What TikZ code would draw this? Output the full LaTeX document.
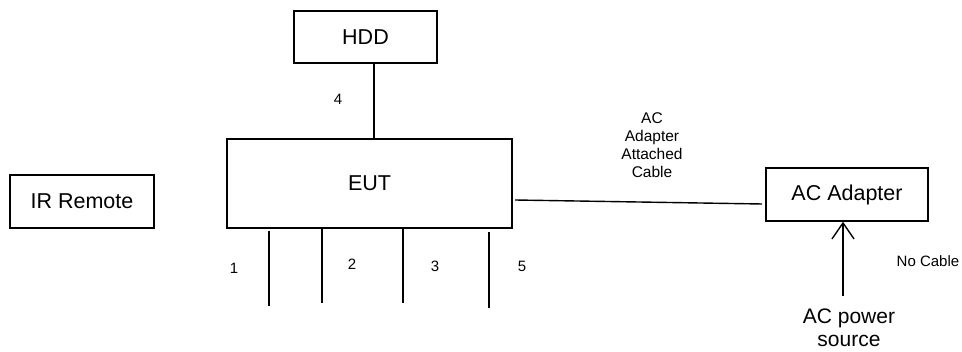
\documentclass[tikz,border=0pt]{standalone}
\usepackage{fontspec}
\setmainfont{Liberation Sans}
\usetikzlibrary{arrows.meta}
\begin{document}
\begin{tikzpicture}[x=1pt,y=-1pt,
  box/.style={draw,line width=1.4pt,inner sep=0pt,font=\fontsize{21.5}{24}\selectfont},
  wire/.style={line width=1.4pt},
  small/.style={inner sep=0pt,font=\fontsize{15}{17}\selectfont},
  mid/.style={inner sep=0pt,align=center,font=\fontsize{15.5}{18}\selectfont}]
\useasboundingbox (0,0) rectangle (962,352);
\node[box,minimum width=143pt,minimum height=52pt] (hdd) at (365.5,37) {HDD};
\node[box,minimum width=285pt,minimum height=89pt] (eut) at (369.5,183.5) {EUT};
\node[box,minimum width=144pt,minimum height=53pt] (ir) at (82,201.5) {IR Remote};
\node[box,minimum width=162pt,minimum height=53pt] (aca) at (847,194.5) {AC Adapter};
\node[mid,font=\fontsize{21}{23}\selectfont] (src) at (849,328) {AC power\\source};
\node[small] (l4) at (338,99) {4};
\node[small] (l1) at (234,268) {1};
\node[small] (l2) at (352,264) {2};
\node[small] (l3) at (435,266) {3};
\node[small] (l5) at (522,266) {5};
\node[small] (nc) at (928,261) {No Cable};
\node[mid] (cab) at (652,145) {AC\\Adapter\\Attached\\Cable};
\coordinate (b1t) at (269,231); \coordinate (b1b) at (269,306);
\coordinate (b2t) at (322,228); \coordinate (b2b) at (322,303);
\coordinate (b3t) at (403,228); \coordinate (b3b) at (403,303);
\coordinate (b5t) at (489,232); \coordinate (b5b) at (489,308);
\coordinate (ct1) at (515,200); \coordinate (ct2) at (762,204);
\coordinate (ar1) at (843,296);
\draw[wire] (hdd.south -| 374,0) -- (eut.north -| 374,0);
\draw[wire] (b1t) -- (b1b);
\draw[wire] (b2t) -- (b2b);
\draw[wire] (b3t) -- (b3b);
\draw[wire] (b5t) -- (b5b);
\draw[wire] (ct1) -- (ct2);
\draw[wire,-{Straight Barb[length=16pt,width=22pt,line width=1.4pt]}] (ar1) -- (aca.south -| ar1);
\end{tikzpicture}
\end{document}
